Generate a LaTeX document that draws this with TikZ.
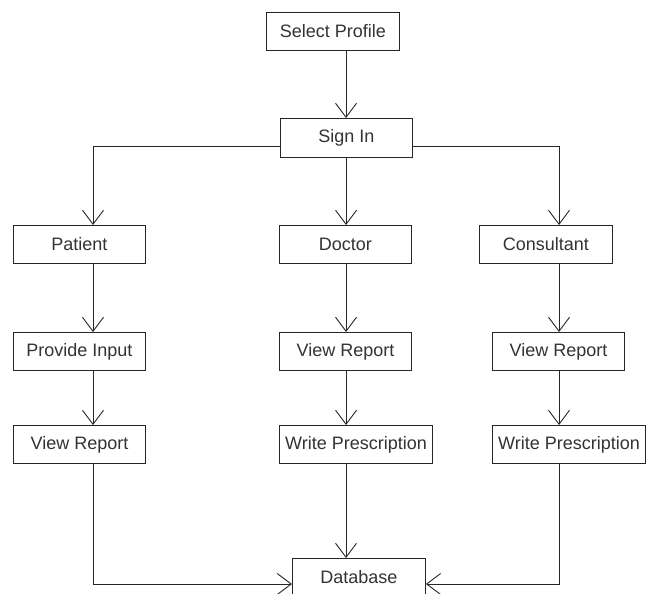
\documentclass[tikz,border=0pt]{standalone}
\usepackage{fontspec}
\setmainfont{Liberation Sans}
\usetikzlibrary{arrows.meta}
\begin{document}
\begin{tikzpicture}[x=1pt,y=-1pt,
  box/.style={draw=black!85, line width=0.9pt, minimum height=38pt, inner sep=0pt,
    anchor=north west, text=black!80, font=\fontsize{18}{20}\selectfont},
  arr/.style={draw=black!85, line width=0.9pt,
    -{Straight Barb[length=14pt,width=21pt,line width=0.9pt]}}]
\useasboundingbox (0,0) rectangle (659,594);
\fill[white] (0,0) rectangle (659,594);
\node[box, minimum width=133pt] (sp) at (266,12) {Select Profile};
\node[box, minimum width=132pt, minimum height=39pt] (si) at (280,118) {Sign In};
\node[box, minimum width=132pt] (pa) at (13,225) {Patient};
\node[box, minimum width=132pt] (dr) at (279,225) {Doctor};
\node[box, minimum width=133pt] (co) at (479,225) {Consultant};
\node[box, minimum width=132pt] (pi) at (13,332) {Provide Input};
\node[box, minimum width=132pt] (dvr) at (279,332) {View Report};
\node[box, minimum width=132pt] (cvr) at (492,332) {View Report};
\node[box, minimum width=132pt] (pvr) at (13,425) {View Report};
\node[box, minimum width=153pt] (dwp) at (279,425) {Write Prescription};
\node[box, minimum width=153pt] (cwp) at (492,425) {Write Prescription};
\node[box, minimum width=133pt] (db) at (292,558) {Database};
\coordinate (xl) at (93,146);
\coordinate (xm) at (346,584);
\coordinate (xr) at (559,146);
\draw[arr] (sp.south -| xm) -- (si.north -| xm);
\draw[arr] (si.west |- xl) -| (pa.north -| xl);
\draw[arr] (si.south -| xm) -- (dr.north -| xm);
\draw[arr] (si.east |- xr) -| (co.north -| xr);
\draw[arr] (pa.south -| xl) -- (pi.north -| xl);
\draw[arr] (pi.south -| xl) -- (pvr.north -| xl);
\draw[arr] (dr.south -| xm) -- (dvr.north -| xm);
\draw[arr] (dvr.south -| xm) -- (dwp.north -| xm);
\draw[arr] (co.south -| xr) -- (cvr.north -| xr);
\draw[arr] (cvr.south -| xr) -- (cwp.north -| xr);
\draw[arr] (dwp.south -| xm) -- (db.north -| xm);
\draw[arr] (pvr.south -| xl) |- (db.west |- xm);
\draw[arr] (cwp.south -| xr) |- (db.east |- xm);
\end{tikzpicture}
\end{document}
